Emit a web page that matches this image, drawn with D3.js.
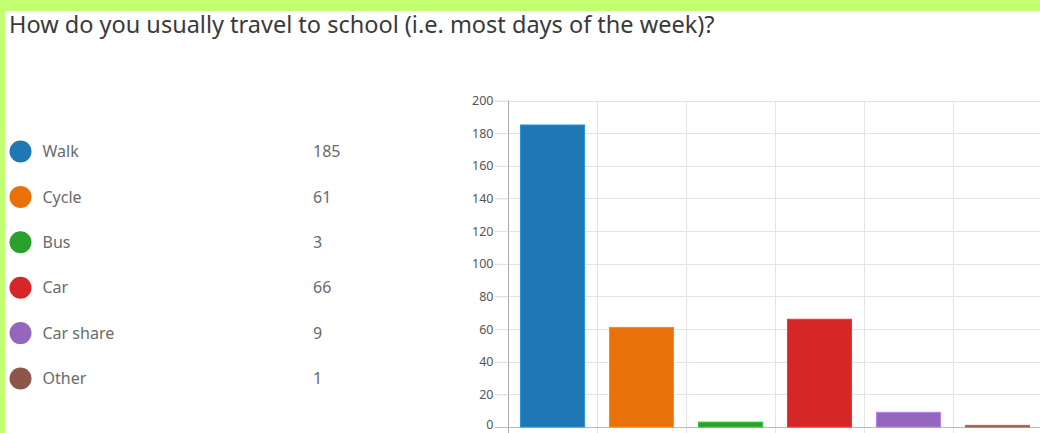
<!DOCTYPE html>
<html>
<head>
<meta charset="utf-8">
<script src="https://cdn.jsdelivr.net/npm/d3@7"></script>
<style>
  html, body { margin: 0; padding: 0; background: #fff; }
  svg { display: block; }
  .grid line { stroke: #e4e4e4; }
  .tick text { fill: #555; }
</style>
</head>
<body>
<div id="chart"></div>
<script>
var modes = ["Walk", "Cycle", "Bus", "Car", "Car share", "Other"];
var counts = [185, 61, 3, 66, 9, 1];
var colours = ["#1f77b4", "#e97109", "#2ca02c", "#d62728", "#9467bd", "#8c564b"];
var yTicks = [0, 20, 40, 60, 80, 100, 120, 140, 160, 180, 200];

var w = 1040, h = 433;
var svg = d3.select("#chart").append("svg").attr("width", w).attr("height", h);

// lime frame (top band + left edge)
svg.append("rect").attr("x", 0).attr("y", 0).attr("width", w).attr("height", h).attr("fill", "#c1fe72");
svg.append("rect").attr("x", 5).attr("y", 11).attr("width", w - 5).attr("height", h - 11).attr("fill", "#fff");

svg.append("text")
    .attr("x", 9).attr("y", 33)
    .attr("font-family", "'Noto Sans', 'Open Sans', sans-serif")
    .attr("font-size", 23.5)
    .attr("fill", "#3a3a3a")
    .text("How do you usually travel to school (i.e. most days of the week)?");

// legend
var legend = svg.append("g").attr("font-family", "'Noto Sans', 'Open Sans', sans-serif").attr("font-size", 16);
var ly = d3.scalePoint().domain(modes).range([151.5, 378.5]);
var item = legend.selectAll("g").data(modes).join("g")
    .attr("transform", function (d) { return "translate(0," + ly(d) + ")"; });
item.append("circle").attr("cx", 20.5).attr("cy", 0).attr("r", 11)
    .attr("fill", function (d, i) { return colours[i]; });
item.append("text").attr("x", 42.5).attr("dy", "0.35em").attr("fill", "#6a6a6a").text(function (d) { return d; });
item.append("text").attr("x", 313).attr("dy", "0.35em").attr("fill", "#6a6a6a").text(function (d, i) { return counts[i]; });

// chart
var x0 = 508, step = 89;
var x = d3.scaleBand().domain(modes).range([x0, x0 + step * modes.length])
    .paddingInner(0.28).paddingOuter(0.14);
var y = d3.scaleLinear().domain([0, 200]).range([427, 100.5]);

var g = svg.append("g").attr("class", "grid");
g.selectAll("line.h").data(yTicks).join("line").attr("class", "h")
    .attr("x1", 495).attr("x2", w)
    .attr("y1", function (d) { return Math.round(y(d)) + 0.5; })
    .attr("y2", function (d) { return Math.round(y(d)) + 0.5; });
g.selectAll("line.v").data(modes).join("line").attr("class", "v")
    .attr("x1", function (d) { return Math.round(x(d) - x.step() * 0.14) + 0.5; })
    .attr("x2", function (d) { return Math.round(x(d) - x.step() * 0.14) + 0.5; })
    .attr("y1", y(200)).attr("y2", h);

var yAxis = svg.append("g")
    .attr("transform", "translate(" + (x0 + 0.5) + ",0)")
    .call(d3.axisLeft(y).tickValues(yTicks).tickSize(13).tickPadding(2))
    .attr("font-family", "'Noto Sans', 'Open Sans', sans-serif")
    .attr("font-size", 12.5);
yAxis.select(".domain").attr("stroke", "#aaa").attr("d", "M0," + y(200) + "V" + h);
yAxis.selectAll(".tick line").attr("stroke", "#e0e0e0");
// bottom label sits a little higher so it stays inside the frame
yAxis.selectAll(".tick text").filter(function (d) { return d === 0; }).attr("dy", "0.1em");

svg.append("line").attr("x1", 495).attr("x2", w)
    .attr("y1", Math.round(y(0)) + 0.5).attr("y2", Math.round(y(0)) + 0.5)
    .attr("stroke", "#bbb");

svg.append("g").selectAll("rect").data(modes).join("rect")
    .attr("x", function (d) { return x(d); })
    .attr("width", x.bandwidth())
    .attr("y", function (d, i) { return y(counts[i]); })
    .attr("height", function (d, i) { return y(0) - y(counts[i]); })
    .attr("fill", function (d, i) { return colours[i]; })
    .attr("stroke", function (d, i) { return d3.color(colours[i]).brighter(0.6); })
    .attr("stroke-width", 1);
</script>
</body>
</html>
